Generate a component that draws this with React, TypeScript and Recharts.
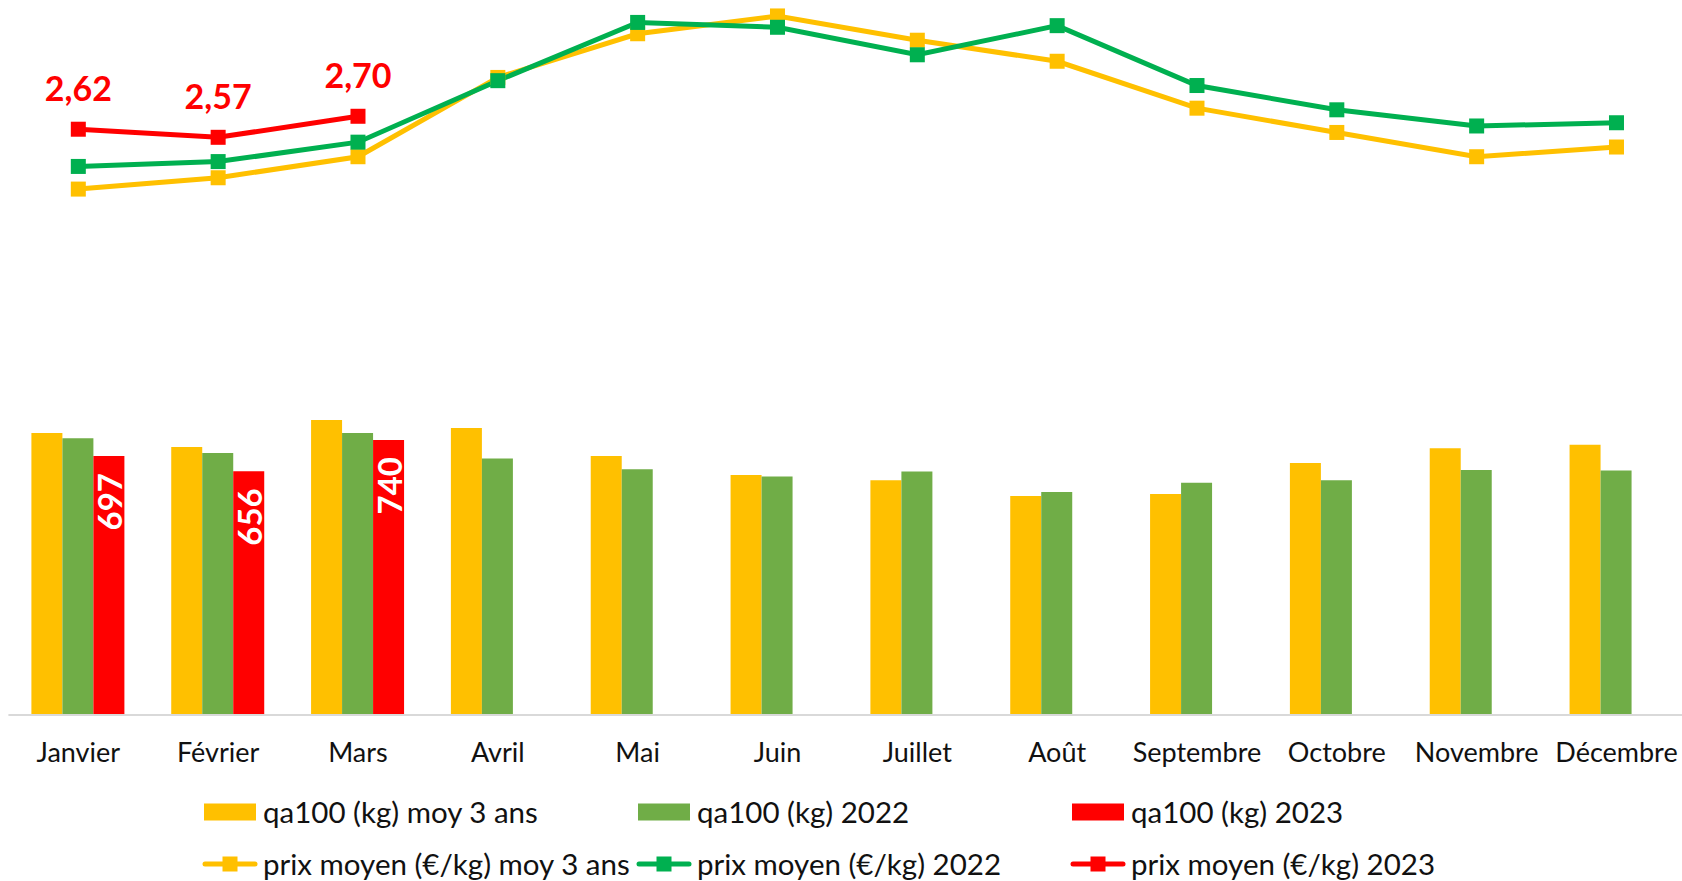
import { Bar, ComposedChart, LabelList, Legend, Line, XAxis, YAxis } from 'recharts';

const months = [
  'Janvier', 'Février', 'Mars', 'Avril', 'Mai', 'Juin',
  'Juillet', 'Août', 'Septembre', 'Octobre', 'Novembre', 'Décembre',
];

// quantités pour 100 (kg)
const qtyAvg3y = [759, 721, 794, 772, 697, 646, 632, 589, 595, 678, 718, 727];
const qty2022 = [745, 705, 759, 690, 661, 642, 655, 600, 625, 632, 659, 658];
const qty2023 = [697, 656, 740];

// prix moyen (€/kg)
const priceAvg3y = [2.25, 2.32, 2.45, 2.94, 3.21, 3.32, 3.17, 3.04, 2.75, 2.6, 2.45, 2.51];
const price2022 = [2.39, 2.42, 2.54, 2.92, 3.28, 3.25, 3.08, 3.26, 2.89, 2.74, 2.64, 2.66];
const price2023 = [2.62, 2.57, 2.7];

const seriesNames = [
  'qa100 (kg) moy 3 ans',
  'qa100 (kg) 2022',
  'qa100 (kg) 2023',
  'prix moyen (€/kg) moy 3 ans',
  'prix moyen (€/kg) 2022',
  'prix moyen (€/kg) 2023',
];

const YELLOW = '#FFC000';
const BAR_GREEN = '#70AD47';
const LINE_GREEN = '#00B050';
const RED = '#FF0000';

const data = months.map((month, i) => ({
  month,
  qtyAvg3y: qtyAvg3y[i],
  qty2022: qty2022[i],
  qty2023: qty2023[i] ?? null,
  priceAvg3y: priceAvg3y[i],
  price2022: price2022[i],
  price2023: price2023[i] ?? null,
}));

const frNumber = (v: number) => v.toFixed(2).replace('.', ',');

function SquareDot(props: any) {
  const { cx, cy, stroke } = props;
  if (cx == null || cy == null) return <g />;
  return <rect x={cx - 7.5} y={cy - 7.5} width={15} height={15} fill={stroke} />;
}

function PriceLabel(props: any) {
  const { x, y, value } = props;
  if (value == null) return null;
  return (
    <text x={x} y={Number(y) - 28} textAnchor="middle" fill={RED} fontSize={34} fontWeight={700}>
      {frNumber(Number(value))}
    </text>
  );
}

function QtyLabel(props: any) {
  const { x, y, width, value } = props;
  if (value == null) return null;
  const cx = Number(x) + Number(width) / 2;
  const top = Number(y) + 17;
  return (
    <text
      x={cx}
      y={top}
      transform={`rotate(-90 ${cx} ${top})`}
      textAnchor="end"
      dominantBaseline="central"
      fill="#fff"
      fontSize={33}
      fontWeight={700}
    >
      {value}
    </text>
  );
}

function LegendIcon({ type, color }: { type: string; color: string }) {
  return (
    <svg width={56} height={20} style={{ flex: 'none' }}>
      {type === 'line' ? (
        <>
          <line x1={3} y1={10} x2={53} y2={10} stroke={color} strokeWidth={5} strokeLinecap="round" />
          <rect x={20.5} y={2.5} width={15} height={15} fill={color} />
        </>
      ) : (
        <rect x={2} y={1.5} width={52} height={17} fill={color} />
      )}
    </svg>
  );
}

function LegendContent({ payload }: any) {
  const items = [...(payload ?? [])].sort(
    (a: any, b: any) => seriesNames.indexOf(a.value) - seriesNames.indexOf(b.value),
  );
  return (
    <div style={{ display: 'grid', gridTemplateColumns: 'repeat(3, 434px)', gridAutoRows: '52px' }}>
      {items.map((item: any) => (
        <div key={item.value} style={{ display: 'flex', alignItems: 'center', gap: 5, whiteSpace: 'nowrap' }}>
          <LegendIcon type={item.type} color={item.color} />
          <span style={{ fontSize: 29.5, lineHeight: '34px', color: '#111' }}>{item.value}</span>
        </div>
      ))}
    </div>
  );
}

export default function App() {
  return (
    <div
      style={{
        position: 'fixed',
        left: 0,
        top: 0,
        width: 1682,
        height: 881,
        overflow: 'hidden',
        background: '#fff',
        fontFamily: 'Lato, "Liberation Sans", sans-serif',
      }}
    >
      <ComposedChart
        width={1700}
        height={881}
        data={data}
        margin={{ top: 3, right: 13.6, bottom: 0, left: 8.4 }}
        barGap={0}
      >
        <XAxis
          dataKey="month"
          height={166}
          tickLine={false}
          tickSize={0}
          tickMargin={28}
          axisLine={{ stroke: '#D9D9D9', strokeWidth: 2 }}
          tick={{ fontSize: 27, fill: '#111' }}
          interval={0}
        />
        <YAxis yAxisId="qty" hide domain={[0, 1916]} />
        <YAxis yAxisId="price" hide domain={[-1, 3.4]} />
        <Legend
          verticalAlign="middle"
          align="center"
          layout="horizontal"
          content={<LegendContent />}
          wrapperStyle={{ left: 202, top: 786, width: 1310, height: 104 }}
        />
        <Bar yAxisId="qty" dataKey="qtyAvg3y" name={seriesNames[0]} fill={YELLOW} barSize={31} legendType="rect" isAnimationActive={false} />
        <Bar yAxisId="qty" dataKey="qty2022" name={seriesNames[1]} fill={BAR_GREEN} barSize={31} legendType="rect" isAnimationActive={false} />
        <Bar yAxisId="qty" dataKey="qty2023" name={seriesNames[2]} fill={RED} barSize={31} legendType="rect" isAnimationActive={false}>
          <LabelList dataKey="qty2023" content={<QtyLabel />} />
        </Bar>
        <Line
          yAxisId="price"
          dataKey="priceAvg3y"
          name={seriesNames[3]}
          stroke={YELLOW}
          strokeWidth={5}
          dot={<SquareDot />}
          activeDot={false}
          legendType="line"
          isAnimationActive={false}
        />
        <Line
          yAxisId="price"
          dataKey="price2022"
          name={seriesNames[4]}
          stroke={LINE_GREEN}
          strokeWidth={5}
          dot={<SquareDot />}
          activeDot={false}
          legendType="line"
          isAnimationActive={false}
        />
        <Line
          yAxisId="price"
          dataKey="price2023"
          name={seriesNames[5]}
          stroke={RED}
          strokeWidth={5}
          dot={<SquareDot />}
          activeDot={false}
          legendType="line"
          isAnimationActive={false}
        >
          <LabelList dataKey="price2023" content={<PriceLabel />} />
        </Line>
      </ComposedChart>
    </div>
  );
}
